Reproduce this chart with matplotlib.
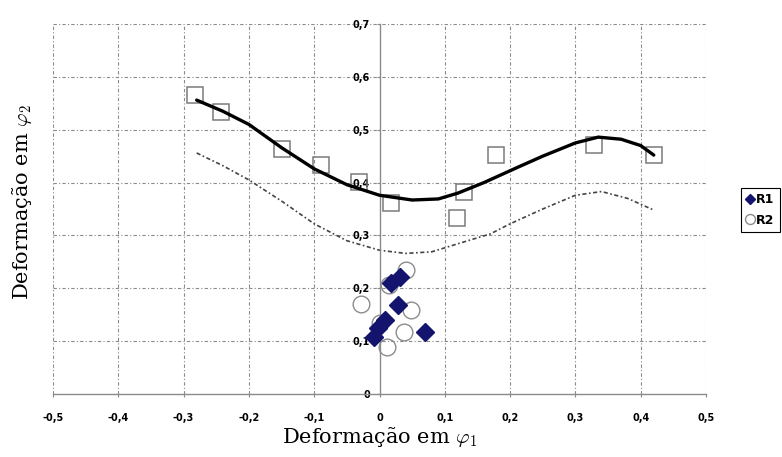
import numpy as np
import matplotlib.pyplot as plt

plt.rcParams['mathtext.fontset'] = 'cm'

# Dados
sq_x = [-0.282, -0.242, -0.150, -0.090, -0.031, 0.018, 0.129, 0.119, 0.178, 0.328, 0.420]
sq_y = [0.566, 0.534, 0.463, 0.433, 0.401, 0.361, 0.382, 0.333, 0.452, 0.471, 0.452]

fit_x = [-0.28, -0.24, -0.20, -0.15, -0.10, -0.05, 0.00, 0.05, 0.09, 0.12, 0.16,
         0.21, 0.25, 0.30, 0.335, 0.37, 0.40, 0.42]
fit_y = [0.556, 0.535, 0.510, 0.466, 0.426, 0.396, 0.376, 0.367, 0.369, 0.380, 0.400,
         0.428, 0.450, 0.475, 0.486, 0.482, 0.470, 0.452]

low_x = [-0.28, -0.24, -0.20, -0.15, -0.10, -0.05, 0.00, 0.04, 0.08, 0.13, 0.17,
         0.20, 0.25, 0.30, 0.34, 0.38, 0.42]
low_y = [0.456, 0.432, 0.405, 0.365, 0.322, 0.290, 0.272, 0.266, 0.269, 0.288, 0.303,
         0.322, 0.350, 0.376, 0.383, 0.370, 0.348]

r2_x = [0.040, -0.029, 0.049, 0.037, 0.011, 0.014, 0.000]
r2_y = [0.235, 0.170, 0.159, 0.117, 0.089, 0.206, 0.134]

r1_x = [0.018, 0.032, 0.029, 0.009, -0.002, -0.009, 0.070]
r1_y = [0.210, 0.221, 0.168, 0.140, 0.125, 0.108, 0.117]

xticks = [-0.5, -0.4, -0.3, -0.2, -0.1, 0, 0.1, 0.2, 0.3, 0.4, 0.5]
xlabels = ['-0,5', '-0,4', '-0,3', '-0,2', '-0,1', '0', '0,1', '0,2', '0,3', '0,4', '0,5']
yticks = [0, 0.1, 0.2, 0.3, 0.4, 0.5, 0.6, 0.7]
ylabels = ['0', '0,1', '0,2', '0,3', '0,4', '0,5', '0,6', '0,7']

fig = plt.figure(figsize=(7.82, 4.57), dpi=100)
ax = fig.add_axes([53/782, 1 - 394/457, 653/782, 370/457])

ax.set_xlim(-0.5, 0.5)
ax.set_ylim(0, 0.7)

# grade tracejada
grid_ls = (0, (3, 2, 1, 2))
for xv in xticks:
    if xv != 0:
        ax.axvline(xv, color='#8a8a8a', lw=0.8, ls=grid_ls, zorder=0)
for yv in yticks:
    if yv != 0:
        ax.axhline(yv, color='#8a8a8a', lw=0.8, ls=grid_ls, zorder=0)

ax.spines['left'].set_position('zero')
ax.spines['bottom'].set_position('zero')
ax.spines['right'].set_visible(False)
ax.spines['top'].set_visible(False)
for sp in ['left', 'bottom']:
    ax.spines[sp].set_color('#8a8a8a')
    ax.spines[sp].set_linewidth(1.0)

ax.set_xticks(xticks)
ax.set_xticklabels(xlabels, fontsize=7, fontweight='bold')
ax.set_yticks(yticks)
ax.set_yticklabels(ylabels, fontsize=7, fontweight='bold')
ax.tick_params(length=2, color='#8a8a8a', pad=5)
ax.tick_params(axis='x', pad=12)

# curvas
ax.plot(low_x, low_y, color='#444444', lw=1.2, ls=(0, (2.5, 1.5, 1, 1.5)), zorder=2)
ax.plot(fit_x, fit_y, color='black', lw=2.4, solid_capstyle='round', zorder=3)
ax.plot(sq_x, sq_y, ls='none', marker='s', ms=12, mfc='none', mec='#7a7a7a', mew=1.1, zorder=2)

# pontos R1 / R2
ax.plot(r2_x, r2_y, ls='none', marker='o', ms=12, mfc='none', mec='#8c8c8c', mew=1.0,
        label='R2', zorder=4)
ax.plot(r1_x, r1_y, ls='none', marker='D', ms=9, color='#14146e', mec='#14146e',
        label='R1', zorder=5)

h, l = ax.get_legend_handles_labels()
leg = fig.legend(h[::-1], l[::-1], loc='upper left', bbox_to_anchor=(735/782, 1 - 182/457),
                 prop={'weight': 'bold', 'size': 9}, markerscale=0.6,
                 handlelength=0.6, handletextpad=0.2, borderpad=0.4, labelspacing=0.6,
                 fancybox=False, framealpha=1, edgecolor='black')
leg.get_frame().set_linewidth(0.8)

fig.text(380/782, 1 - 437/457, 'Deformação em $\\varphi_1$', ha='center', va='center',
         fontsize=15, family='DejaVu Serif')
fig.text(22/782, 1 - 202/457, 'Deformação em $\\varphi_2$', ha='center', va='center',
         fontsize=15, family='DejaVu Serif', rotation=90)

fig.savefig('out.png', dpi=100)
